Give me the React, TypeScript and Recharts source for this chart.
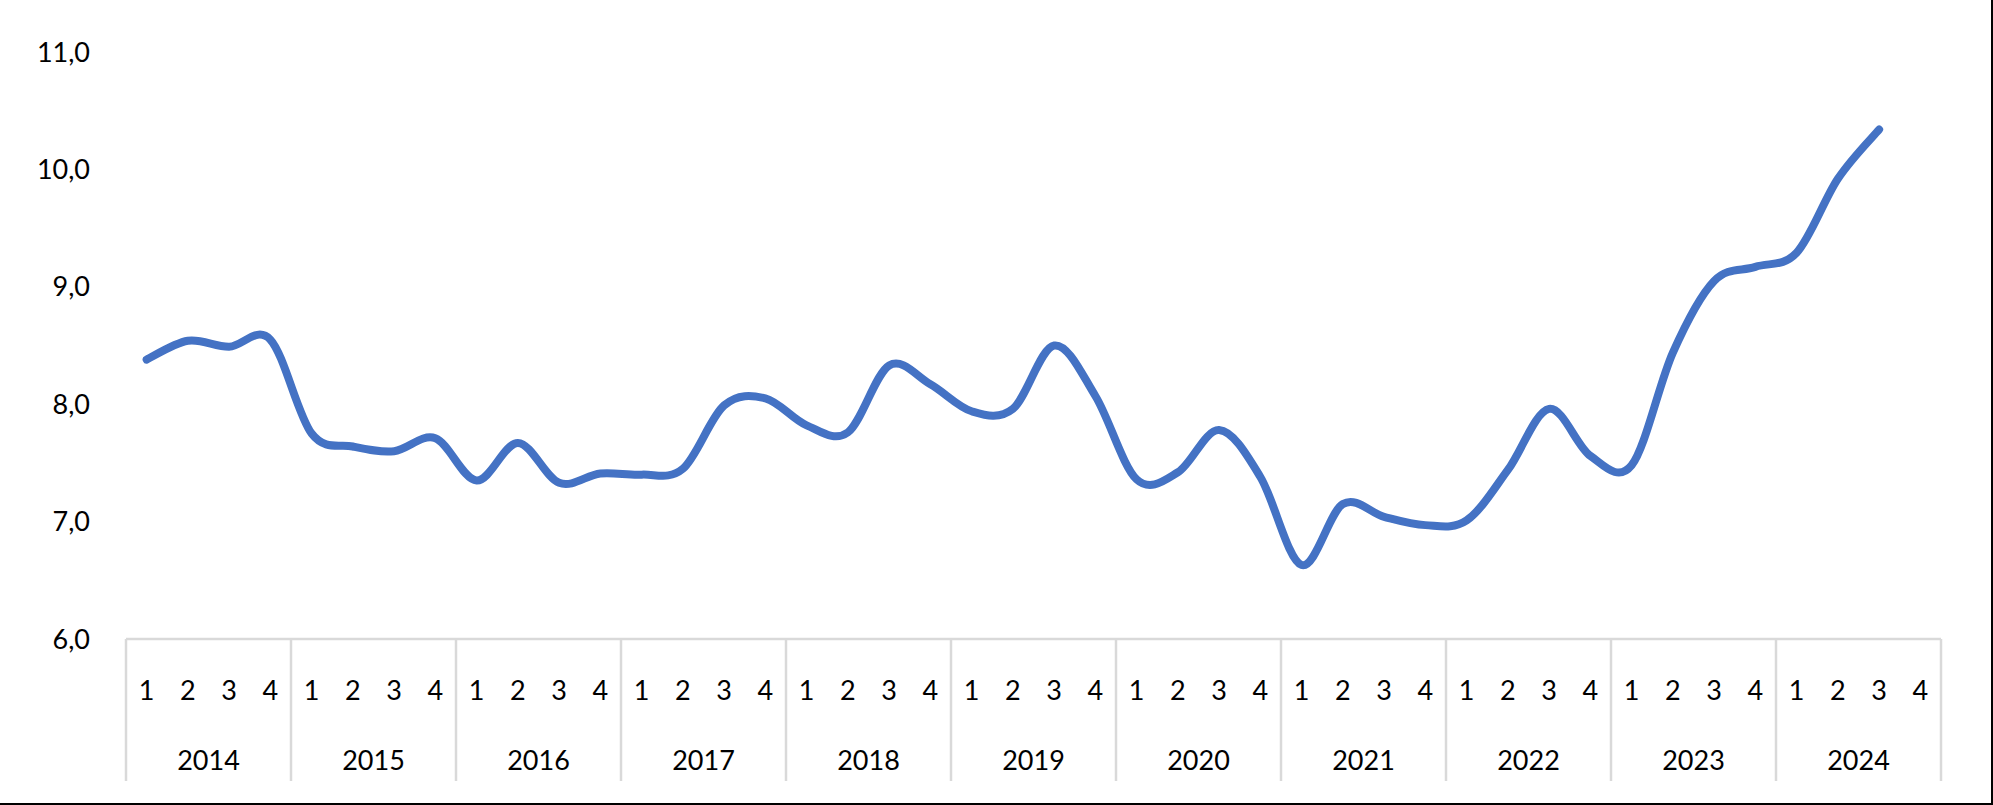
import React from 'react';
import { LineChart, Line, XAxis, YAxis } from 'recharts';

const years = ['2014', '2015', '2016', '2017', '2018', '2019', '2020', '2021', '2022', '2023', '2024'];
const quarters = ['1', '2', '3', '4'];
const values: (number | null)[] = [
  8.38, 8.54, 8.49, 8.55,
  7.75, 7.64, 7.60, 7.71,
  7.35, 7.67, 7.33, 7.41,
  7.40, 7.45, 7.99, 8.05,
  7.82, 7.76, 8.33, 8.17,
  7.94, 7.96, 8.50, 8.07,
  7.36, 7.42, 7.78, 7.38,
  6.63, 7.15, 7.04, 6.97,
  7.01, 7.44, 7.96, 7.56,
  7.48, 8.44, 9.05, 9.17,
  9.29, 9.92, 10.34, null,
];
const yTicks = [6, 7, 8, 9, 10, 11];

const data = years.flatMap((y, yi) =>
  quarters.map((q, qi) => ({
    key: `${y}-${q}`,
    year: y,
    quarter: q,
    value: values[yi * 4 + qi],
  }))
);

const W = 1993;
const H = 805;
const MARGIN = { top: 52, right: 52, bottom: 0, left: 0 };
const YAXIS_W = 126;
const XAXIS_H = 166;
const HALF_BAND = (W - MARGIN.left - MARGIN.right - YAXIS_W) / data.length / 2;
const FONT = 'Lato, "Open Sans", sans-serif';
const GRID = '#D9D9D9';

// Excel-like smoothed line (Catmull-Rom as cubic Bezier)
const excelSmooth = (context: any) => {
  let pts: [number, number][] = [];
  return {
    areaStart() {},
    areaEnd() {},
    lineStart() {
      pts = [];
    },
    point(x: number, y: number) {
      pts.push([+x, +y]);
    },
    lineEnd() {
      if (!pts.length) return;
      context.moveTo(pts[0][0], pts[0][1]);
      if (pts.length === 1) {
        context.lineTo(pts[0][0], pts[0][1]);
        return;
      }
      for (let i = 0; i < pts.length - 1; i++) {
        const p0 = pts[i - 1] || pts[i];
        const p1 = pts[i];
        const p2 = pts[i + 1];
        const p3 = pts[i + 2] || p2;
        const c1x = p1[0] + (p2[0] - p0[0]) / 6;
        const c1y = p1[1] + (p2[1] - p0[1]) / 6;
        const c2x = p2[0] - (p3[0] - p1[0]) / 6;
        const c2y = p2[1] - (p3[1] - p1[1]) / 6;
        context.bezierCurveTo(c1x, c1y, c2x, c2y, p2[0], p2[1]);
      }
    },
  };
};

const CategoryTick = (props: any) => {
  const { x, y, payload, index } = props;
  const row = data[index] || data.find((d) => d.key === payload.value);
  const qi = index % 4;
  const half = HALF_BAND;
  return (
    <g>
      <text
        x={x}
        y={y + 50}
        textAnchor="middle"
        dominantBaseline="central"
        fontFamily={FONT}
        fontSize={27}
        fill="#000"
      >
        {row ? row.quarter : ''}
      </text>
      {qi === 0 && (
        <line x1={x - half} y1={y} x2={x - half} y2={y + 142} stroke={GRID} strokeWidth={2.5} />
      )}
      {index === data.length - 1 && (
        <line x1={x + half} y1={y} x2={x + half} y2={y + 142} stroke={GRID} strokeWidth={2.5} />
      )}
      {qi === 1 && (
        <text
          x={x + half}
          y={y + 120}
          textAnchor="middle"
          dominantBaseline="central"
          fontFamily={FONT}
          fontSize={27}
          fill="#000"
        >
          {row ? row.year : ''}
        </text>
      )}
    </g>
  );
};

const fmt = (v: number) => v.toFixed(1).replace('.', ',');

export default function App() {
  return (
    <div style={{ position: 'absolute', left: 0, top: 0, width: W, height: H, background: '#fff' }}>
      <LineChart width={W} height={H} data={data} margin={MARGIN}>
        <XAxis
          dataKey="key"
          scale="band"
          interval={0}
          height={XAXIS_H}
          tickLine={false}
          tickSize={0}
          tickMargin={0}
          axisLine={{ stroke: GRID, strokeWidth: 2.5 }}
          tick={<CategoryTick />}
        />
        <YAxis
          width={YAXIS_W}
          domain={[6, 11]}
          ticks={yTicks}
          axisLine={false}
          tickLine={false}
          tickSize={0}
          tickMargin={36}
          tickFormatter={fmt}
          tick={{ fontFamily: FONT, fontSize: 27, fill: '#000' }}
          allowDataOverflow
        />
        <Line
          dataKey="value"
          type={excelSmooth as any}
          stroke="#4472C4"
          strokeWidth={8}
          strokeLinecap="round"
          strokeLinejoin="round"
          dot={false}
          activeDot={false}
          connectNulls={false}
          isAnimationActive={false}
        />
      </LineChart>
      <div
        style={{
          position: 'absolute',
          left: 0,
          top: 0,
          width: W,
          height: H,
          boxSizing: 'border-box',
          borderRight: '2px solid #000',
          borderBottom: '2px solid #000',
          pointerEvents: 'none',
        }}
      />
    </div>
  );
}
